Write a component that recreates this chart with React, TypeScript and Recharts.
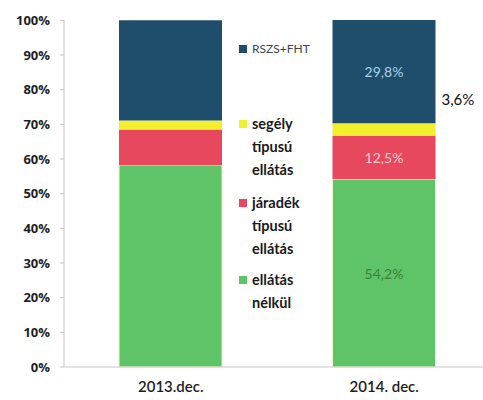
import React from 'react';
import { BarChart, Bar, XAxis, YAxis, LabelList } from 'recharts';

const periods = ['2013.dec.', '2014. dec.'];
const ellatasNelkul = [58.3, 54.2];
const jaradek = [10.2, 12.5];
const segely = [2.6, 3.6];
const rszsFht = [28.9, 29.8];
const yTicks = [0, 10, 20, 30, 40, 50, 60, 70, 80, 90, 100];

const data = periods.map((p, i) => ({
  period: p,
  nelkul: ellatasNelkul[i],
  jaradek: jaradek[i],
  segely: segely[i],
  rszs: rszsFht[i],
}));

const COLORS = {
  rszs: '#1f4e6c',
  segely: '#f3ef2c',
  jaradek: '#e8485e',
  nelkul: '#5fc467',
};

const legendItems = [
  { key: 'rszs', lines: ['RSZS+FHT'] },
  { key: 'segely', lines: ['segély', 'típusú', 'ellátás'] },
  { key: 'jaradek', lines: ['járadék', 'típusú', 'ellátás'] },
  { key: 'nelkul', lines: ['ellátás', 'nélkül'] },
];

const fmt = (v: number) => v.toFixed(1).replace('.', ',') + '%';

const ChartLegend = () => {
  const gaps: Record<string, number> = { rszs: 52, segely: 10, jaradek: 8, nelkul: 0 };
  return (
    <div style={{ position: 'absolute', left: 239, top: 37, width: 90, zIndex: 2, fontFamily: 'Lato, sans-serif', fontSize: 14, lineHeight: '23px' }}>
      {legendItems.map((it) => (
        <div key={it.key} style={{ display: 'flex', marginBottom: gaps[it.key] }}>
          <div style={{ width: 8, height: 8, flex: 'none', background: COLORS[it.key as keyof typeof COLORS], marginTop: 8, marginRight: 5 }} />
          <div style={{ color: it.key === 'rszs' ? '#3a4650' : '#1a1a1a', fontWeight: it.key === 'rszs' ? 400 : 700, fontSize: it.key === 'rszs' ? 12 : 14.5 }}>
            {it.lines.map((l) => (
              <div key={l + it.key}>{l}</div>
            ))}
          </div>
        </div>
      ))}
    </div>
  );
};

const innerLabel = (color: string) => (props: any) => {
  const { x, y, width, height, value, index } = props;
  if (index !== 1) return null;
  return (
    <text x={x + width / 2} y={y + height / 2} fill={color} fontSize={14} fontFamily="Lato, sans-serif" textAnchor="middle" dominantBaseline="central">
      {fmt(value)}
    </text>
  );
};

const outsideLabel = (props: any) => {
  const { x, y, width, value, index } = props;
  if (index !== 1) return null;
  return (
    <text x={x + width + 6} y={y - 24} fill="#111" fontSize={15} fontFamily="Lato, sans-serif" dominantBaseline="central">
      {fmt(value)}
    </text>
  );
};

export default function App() {
  return (
    <div style={{ position: 'absolute', left: 0, top: 0, width: 483, height: 400, overflow: 'hidden', background: '#fff' }}>
      <BarChart width={495} height={400} data={data} margin={{ top: 20, right: 4, bottom: 3, left: 0 }}>
        <YAxis
          type="number"
          domain={[0, 100]}
          ticks={yTicks}
          width={64}
          tickFormatter={(v) => `${v}%`}
          axisLine={{ stroke: '#c4c4c4' }}
          tickLine={{ stroke: '#c4c4c4' }}
          tickSize={4}
          tickMargin={10}
          tick={{ fill: '#1e1e1e', fontSize: 13, fontWeight: 700, fontFamily: 'Open Sans, sans-serif' }}
        />
        <XAxis
          dataKey="period"
          height={30}
          axisLine={{ stroke: '#c8c8c8' }}
          tickLine={false}
          tick={{ fill: '#1e1e1e', fontSize: 15, fontWeight: 600, fontFamily: 'Lato, sans-serif' }}
          dy={6}
        />
        <Bar dataKey="nelkul" stackId="a" fill={COLORS.nelkul} barSize={103} stroke="#eef6c8" strokeWidth={1} isAnimationActive={false}>
          <LabelList dataKey="nelkul" content={innerLabel('#3c7f3c')} />
        </Bar>
        <Bar dataKey="jaradek" stackId="a" fill={COLORS.jaradek} barSize={103} isAnimationActive={false}>
          <LabelList dataKey="jaradek" content={innerLabel('#f4ccd2')} />
        </Bar>
        <Bar dataKey="segely" stackId="a" fill={COLORS.segely} barSize={103} isAnimationActive={false}>
          <LabelList dataKey="segely" content={outsideLabel} />
        </Bar>
        <Bar dataKey="rszs" stackId="a" fill={COLORS.rszs} barSize={103} isAnimationActive={false}>
          <LabelList dataKey="rszs" content={innerLabel('#a9d2e8')} />
        </Bar>
      </BarChart>
      <ChartLegend />
    </div>
  );
}
